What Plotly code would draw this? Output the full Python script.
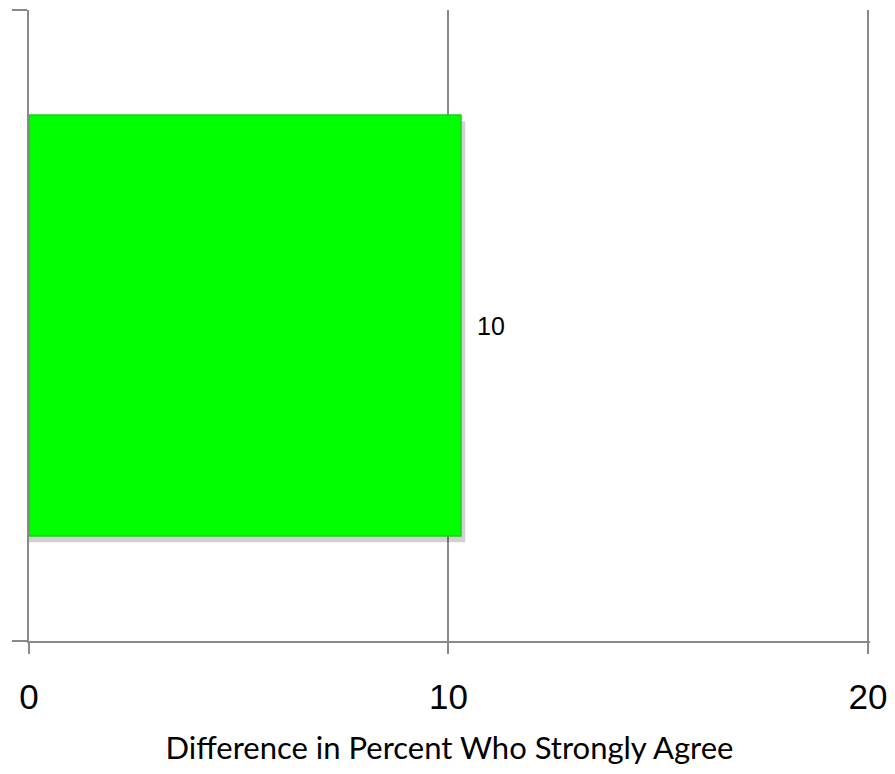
import plotly.graph_objects as go

categories = [""]
values = [10.3]
value_labels = ["10"]
x_ticks = [0, 10, 20]
x_title = "Difference in Percent Who Strongly Agree"

AX = "#898989"
BAR_W = 0.667

fig = go.Figure()
# soft drop shadow
fig.add_trace(go.Bar(
    y=categories, x=[v + 0.1 for v in values], orientation="h",
    marker=dict(color="rgba(0,0,0,0.18)", line=dict(width=0)),
    width=BAR_W, offset=-BAR_W / 2 - 0.01, hoverinfo="skip",
))
fig.add_trace(go.Bar(
    y=categories, x=values, orientation="h",
    marker=dict(color="#00FF00", line=dict(color="#22cc22", width=1.5)),
    width=BAR_W, offset=-BAR_W / 2,
))
for cat, v, lab in zip(categories, values, value_labels):
    fig.add_annotation(
        x=v, y=cat, text=lab, showarrow=False, xanchor="left", xshift=14,
        font=dict(family="Liberation Sans", size=25, color="#000"),
    )

fig.update_layout(
    width=879, height=758,
    margin=dict(l=21, r=17, t=2, b=125),
    paper_bgcolor="white", plot_bgcolor="white",
    showlegend=False, barmode="overlay",
    xaxis=dict(
        range=[0, 20.05], tickvals=x_ticks, ticktext=[str(t) for t in x_ticks],
        showgrid=True, gridcolor=AX, gridwidth=1.5,
        showline=True, linecolor=AX, linewidth=2,
        ticks="outside", ticklen=11, tickcolor=AX, tickwidth=2,
        zeroline=False, ticklabeloverflow="allow", ticklabelstandoff=13,
        automargin=False,
        tickfont=dict(family="Liberation Sans", size=35, color="#000"),
        title=dict(text=x_title, font=dict(family="Lato", size=31, color="#000"), standoff=26),
    ),
    yaxis=dict(
        range=[-0.5, 0.5], automargin=False,
        showline=True, linecolor=AX, linewidth=2,
        ticks="outside", ticklen=15, tickcolor=AX, tickwidth=2,
        tickson="boundaries", showgrid=False, showticklabels=False,
    ),
)

fig.write_html("out.html")
